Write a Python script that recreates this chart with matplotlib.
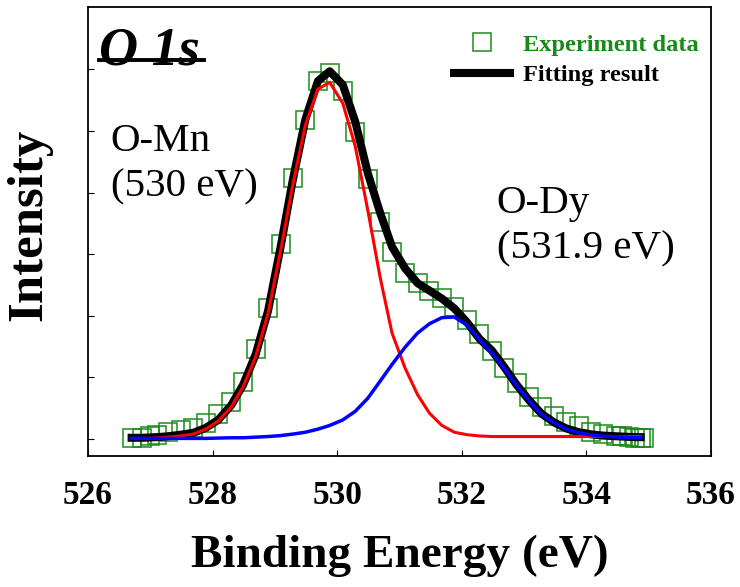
import matplotlib
matplotlib.use('Agg')
import matplotlib.pyplot as plt
from matplotlib.lines import Line2D

plt.rcParams['font.family'] = ['Liberation Serif', 'DejaVu Serif']

# experimental O 1s spectrum (binding energy in eV, intensity in arb. units)
be_exp = [526.70, 526.87, 526.99, 527.10, 527.29, 527.49, 527.69, 527.89, 528.09, 528.30,
          528.49, 528.69, 528.89, 529.09, 529.29, 529.49, 529.69, 529.88, 530.09, 530.29,
          530.49, 530.69, 530.88, 531.09, 531.29, 531.48, 531.68, 531.88, 532.08, 532.28,
          532.48, 532.68, 532.88, 533.08, 533.28, 533.48, 533.68, 533.88, 534.08, 534.27,
          534.47, 534.57, 534.68, 534.78, 534.87, 534.92]
int_exp = [0.013, 0.024, 0.041, 0.070, 0.114, 0.138, 0.179, 0.252, 0.406, 0.606,
           0.930, 1.456, 2.122, 3.161, 4.242, 5.179, 5.812, 5.937, 5.649, 4.984,
           4.216, 3.528, 3.041, 2.700, 2.528, 2.408, 2.294, 2.138, 1.932, 1.705,
           1.432, 1.157, 0.904, 0.677, 0.515, 0.378, 0.281, 0.211, 0.119, 0.081,
           0.054, 0.041, 0.032, 0.024, 0.016, 0.016]

# fitted curves
be_fit = [526.70, 526.87, 526.99, 527.10, 527.29, 527.49, 527.69, 527.89, 528.09, 528.30,
          528.49, 528.69, 528.89, 529.09, 529.29, 529.49, 529.69, 529.88, 530.09, 530.29,
          530.49, 530.69, 530.88, 531.09, 531.29, 531.48, 531.68, 531.88, 532.08, 532.28,
          532.48, 532.68, 532.88, 533.08, 533.28, 533.48, 533.68, 533.88, 534.08, 534.27,
          534.47, 534.57, 534.68, 534.78, 534.87]
fit_total = [0.02, 0.02, 0.025, 0.03, 0.045, 0.07, 0.10, 0.18, 0.31, 0.55,
             0.88, 1.37, 2.08, 3.11, 4.22, 5.19, 5.81, 5.97, 5.75, 5.15,
             4.32, 3.67, 3.12, 2.77, 2.53, 2.41, 2.28, 2.12, 1.90, 1.63,
             1.44, 1.17, 0.88, 0.63, 0.41, 0.27, 0.17, 0.11, 0.075, 0.055,
             0.045, 0.04, 0.035, 0.03, 0.03]
fit_mn = [0.01, 0.01, 0.01, 0.02, 0.03, 0.05, 0.08, 0.16, 0.29, 0.52,
          0.85, 1.33, 2.04, 3.05, 4.14, 5.10, 5.68, 5.79, 5.45, 4.75,
          3.72, 2.62, 1.72, 1.15, 0.72, 0.42, 0.22, 0.11, 0.07, 0.05,
          0.04, 0.04, 0.04, 0.04, 0.04, 0.04, 0.04, 0.04, 0.04, 0.04,
          0.04, 0.04, 0.04, 0.04, 0.04]
fit_dy = [0.01, 0.01, 0.01, 0.01, 0.01, 0.01, 0.01, 0.01, 0.015, 0.02,
          0.02, 0.03, 0.04, 0.055, 0.08, 0.11, 0.16, 0.22, 0.31, 0.45,
          0.66, 0.94, 1.21, 1.49, 1.72, 1.87, 1.97, 1.98, 1.85, 1.62,
          1.40, 1.15, 0.87, 0.62, 0.40, 0.26, 0.16, 0.10, 0.065, 0.045,
          0.035, 0.03, 0.025, 0.02, 0.02]

xticks = [526, 528, 530, 532, 534, 536]
yticks = [0, 1, 2, 3, 4, 5, 6]
green = '#178a17'

fig = plt.figure(figsize=(7.4, 5.87), dpi=100)
ax = fig.add_axes([88/740, (587-456)/587, 623/740, 449/587])

ax.plot(be_exp, int_exp, linestyle='none', marker='s', ms=13.5, mfc='none',
        mec=green, mew=1.2, alpha=0.9, label='Experiment data', zorder=2)
ax.plot(be_fit, fit_total, color='black', lw=5.8, label='Fitting result', zorder=3)
ax.plot(be_fit, fit_mn, color='red', lw=2.2, zorder=4)
ax.plot(be_fit, fit_dy, color='blue', lw=2.5, zorder=5)

ax.set_xlim(526, 536)
ax.set_ylim(-0.276, 7.013)
ax.set_xticks(xticks)
ax.set_xticklabels([str(t) for t in xticks], fontsize=24, fontweight='bold')
ax.set_yticks(yticks)
ax.set_yticklabels([])
ax.tick_params(direction='in', length=4, width=0.8, top=False, right=False)
ax.tick_params(axis='x', pad=17)
for sp in ax.spines.values():
    sp.set_linewidth(1.3)

ax.set_xlabel('Binding Energy (eV)', fontsize=34, fontweight='bold', va='center')
ax.xaxis.set_label_coords(0.5, -0.222)
ax.set_ylabel('Intensity', fontsize=36.5, fontweight='bold', va='center')
ax.yaxis.set_label_coords(-0.094, 0.515)

# panel title with underline
ax.text(0.0177, 0.871, 'O 1s', transform=ax.transAxes, fontsize=39,
        fontweight='bold', fontstyle='italic', va='baseline')
ax.add_line(Line2D([0.0177, 0.186], [0.882, 0.882], transform=ax.transAxes,
                   color='black', lw=2.8))

# peak labels
ax.text(0.0364, 0.679, 'O-Mn', transform=ax.transAxes, fontsize=29.5, va='baseline')
ax.text(0.0364, 0.579, '(530 eV)', transform=ax.transAxes, fontsize=29.5, va='baseline')
ax.text(0.656, 0.541, 'O-Dy', transform=ax.transAxes, fontsize=29.5, va='baseline')
ax.text(0.656, 0.441, '(531.9 eV)', transform=ax.transAxes, fontsize=29.5, va='baseline')

leg = ax.legend(loc='upper left', bbox_to_anchor=(0.572, 0.962), borderaxespad=0,
                frameon=False, prop={'weight': 'bold', 'size': 17.6},
                handlelength=2.3, handletextpad=0.5, labelspacing=0.33, borderpad=0.4)
leg.get_texts()[0].set_color(green)

fig.savefig('out.png', dpi=100)
